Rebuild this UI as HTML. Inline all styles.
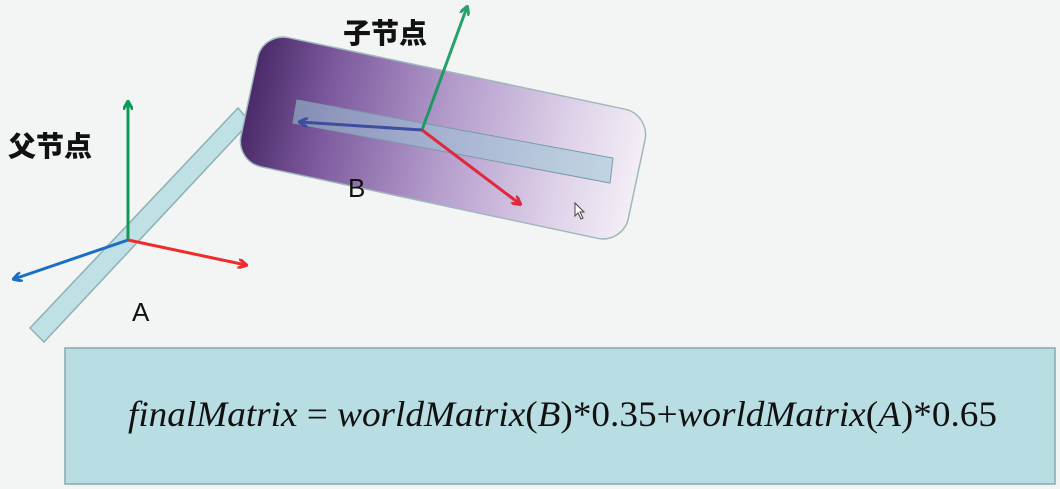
<!DOCTYPE html>
<html><head><meta charset="utf-8"><style>
html,body{margin:0;padding:0;background:#f3f5f5;}
svg{display:block}
</style></head><body>
<svg width="1060" height="489" viewBox="0 0 1060 489" xmlns="http://www.w3.org/2000/svg">
<defs>
<linearGradient id="pg" x1="0" y1="0" x2="1" y2="0">
<stop offset="0" stop-color="#4a2a68"/>
<stop offset="0.2" stop-color="#7d5a9e"/>
<stop offset="0.5" stop-color="#b39bcb"/>
<stop offset="0.8" stop-color="#ddd0e8"/>
<stop offset="1" stop-color="#f3eef6"/>
</linearGradient>
<marker id="ag" markerWidth="10" markerHeight="10" refX="8" refY="5" orient="auto" markerUnits="userSpaceOnUse"><path d="M0,0 L9,5 L0,10" fill="none" stroke="#0f9a5a" stroke-width="3"/></marker>
<marker id="ar" markerWidth="10" markerHeight="10" refX="8" refY="5" orient="auto" markerUnits="userSpaceOnUse"><path d="M0,0 L9,5 L0,10" fill="none" stroke="#ef2b2b" stroke-width="3"/></marker>
<marker id="ab" markerWidth="10" markerHeight="10" refX="8" refY="5" orient="auto" markerUnits="userSpaceOnUse"><path d="M0,0 L9,5 L0,10" fill="none" stroke="#1a6fc4" stroke-width="3"/></marker>
<marker id="ab2" markerWidth="10" markerHeight="10" refX="8" refY="5" orient="auto" markerUnits="userSpaceOnUse"><path d="M0,0 L9,5 L0,10" fill="none" stroke="#3d4e9e" stroke-width="3"/></marker>
<marker id="ar2" markerWidth="10" markerHeight="10" refX="8" refY="5" orient="auto" markerUnits="userSpaceOnUse"><path d="M0,0 L9,5 L0,10" fill="none" stroke="#e0283c" stroke-width="3"/></marker>
</defs>
<rect width="1060" height="489" fill="#f3f5f5"/>
<polygon points="30,328 44,342 250,122 238,108" fill="#bfe0e4" stroke="#8fb0b4" stroke-width="1.5"/>
<line x1="128" y1="240" x2="128" y2="102" stroke="#0f9a5a" stroke-width="3" marker-end="url(#ag)"/>
<line x1="128" y1="240" x2="246" y2="265" stroke="#ef2b2b" stroke-width="3" marker-end="url(#ar)"/>
<line x1="128" y1="240" x2="14" y2="279" stroke="#1a6fc4" stroke-width="3" marker-end="url(#ab)"/>
<rect x="245" y="72" width="396" height="132" rx="26" transform="rotate(12 443 138)" fill="url(#pg)" stroke="#9fb8bc" stroke-width="1.5"/>
<polygon points="297,100 613,158 610,183 293,123" fill="#9cc6d6" fill-opacity="0.55" stroke="#7a9aa8" stroke-width="1"/>
<line x1="422" y1="130" x2="467" y2="7" stroke="#0f9a5a" stroke-width="3" marker-end="url(#ag)" opacity="0.9"/>
<line x1="422" y1="130" x2="300" y2="122" stroke="#3d4e9e" stroke-width="3" marker-end="url(#ab2)"/>
<line x1="422" y1="130" x2="520" y2="204" stroke="#e0283c" stroke-width="3" marker-end="url(#ar2)"/>
<path d="M575,203 L575,216 L578,213 L581,219 L583,218 L580,212 L584,212 Z" fill="#fff" stroke="#444" stroke-width="1"/>
<text x="343" y="43" font-family="'Noto Sans CJK SC',sans-serif" font-weight="900" font-size="28" fill="#111">子节点</text>
<text x="8" y="156" font-family="'Noto Sans CJK SC',sans-serif" font-weight="900" font-size="28" fill="#111">父节点</text>
<text x="348" y="197" font-family="'Liberation Sans',sans-serif" font-size="26" fill="#111">B</text>
<text x="132" y="321" font-family="'Liberation Sans',sans-serif" font-size="26" fill="#111">A</text>
<rect x="65" y="348" width="990" height="136" fill="#b8dee3" stroke="#86a9ad" stroke-width="1.5"/>
<text x="128" y="426" textLength="869" lengthAdjust="spacingAndGlyphs" font-family="'Liberation Serif',serif" font-size="36" fill="#111"><tspan font-style="italic">finalMatrix</tspan> = <tspan font-style="italic">worldMatrix</tspan>(<tspan font-style="italic">B</tspan>)*0.35+<tspan font-style="italic">worldMatrix</tspan>(<tspan font-style="italic">A</tspan>)*0.65</text>
</svg>
</body></html>
